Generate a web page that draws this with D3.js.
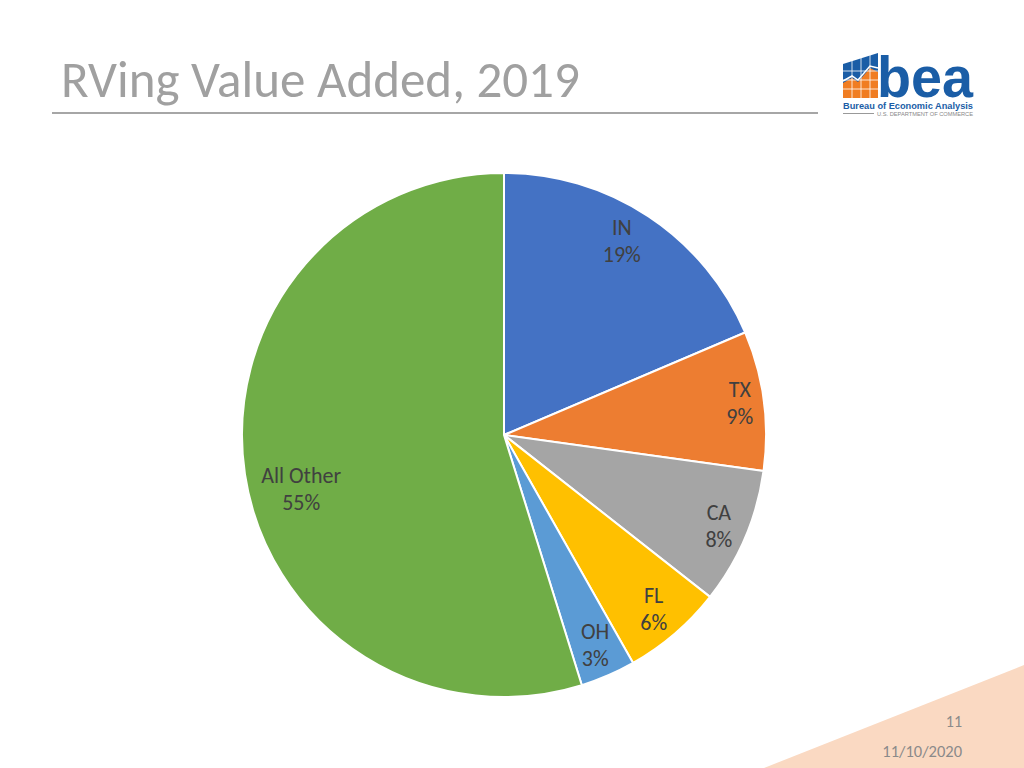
<!DOCTYPE html>
<html><head><meta charset="utf-8">
<script src="https://cdn.jsdelivr.net/npm/d3@7"></script>
<style>html,body{margin:0;padding:0;background:#fff;}svg{display:block;}</style>
</head><body>
<svg id="c" width="1024" height="768"></svg>
<script>
const categories = ["IN", "TX", "CA", "FL", "OH", "All Other"];
const values = [18.6, 8.6, 8.4, 6.2, 3.4, 54.8];
const colors = ["#4472c4", "#ed7d31", "#a5a5a5", "#ffc000", "#5b9bd5", "#70ad47"];
const title = "RVing Value Added, 2019";
const pageNumber = "11";
const dateText = "11/10/2020";

const svg = d3.select("#c");
const font = "Carlito, 'Open Sans', 'Liberation Sans', sans-serif";

// background triangle bottom-right
svg.append("path").attr("d", "M764,768 L1024,665 L1024,768 Z").attr("fill", "#fad9c2");

// title
svg.append("text").attr("x", 61).attr("y", 97).attr("font-family", font)
  .attr("font-size", 51).attr("fill", "#a0a0a0").text(title);
svg.append("line").attr("x1", 52).attr("x2", 818).attr("y1", 113).attr("y2", 113)
  .attr("stroke", "#a6a6a6").attr("stroke-width", 2);

// logo
const logo = svg.append("g");
const blue = "#1a5da6";
logo.append("path").attr("d", "M843,64 L878,53 L878,98 L843,98 Z").attr("fill", blue);
logo.append("path").attr("d", "M843,83 L852,78 L858,82 L870,68 L878,72 L878,98 L843,98 Z").attr("fill", "#f07d22");
for (let i = 1; i < 4; i++) {
  logo.append("line").attr("x1", 843 + i * 9).attr("x2", 843 + i * 9).attr("y1", 55).attr("y2", 98).attr("stroke", "#fff").attr("stroke-width", 0.8);
}
for (let j = 1; j < 4; j++) {
  logo.append("line").attr("x1", 843).attr("x2", 878).attr("y1", 62 + j * 9).attr("y2", 62 + j * 9).attr("stroke", "#fff").attr("stroke-width", 0.8);
}
logo.append("polyline").attr("points", "843,81 852,76 858,80 870,66 878,68").attr("fill", "none").attr("stroke", "#fff").attr("stroke-width", 1.5);
logo.append("text").attr("x", 877).attr("y", 97).attr("font-family", "'Liberation Sans', Arial, sans-serif")
  .attr("font-weight", "bold").attr("font-size", 58).attr("fill", blue).attr("textLength", 96).attr("lengthAdjust", "spacingAndGlyphs").text("bea");
logo.append("text").attr("x", 843).attr("y", 109).attr("font-family", "'Liberation Sans', Arial, sans-serif")
  .attr("font-weight", "bold").attr("font-size", 9.5).attr("fill", blue).attr("textLength", 130).attr("lengthAdjust", "spacingAndGlyphs").text("Bureau of Economic Analysis");
logo.append("line").attr("x1", 843).attr("x2", 874).attr("y1", 113.5).attr("y2", 113.5).attr("stroke", "#999").attr("stroke-width", 1);
logo.append("text").attr("x", 877).attr("y", 116).attr("font-family", "'Liberation Sans', Arial, sans-serif")
  .attr("font-size", 5.5).attr("fill", "#888").attr("textLength", 96).attr("lengthAdjust", "spacingAndGlyphs").text("U.S. DEPARTMENT OF COMMERCE");

// pie
const cx = 504, cy = 435, R = 262;
const total = d3.sum(values);
const data = categories.map((c, i) => ({ name: c, value: values[i], color: colors[i] }));
const pie = d3.pie().value(d => d.value).sort(null).startAngle(0).endAngle(2 * Math.PI);
const arc = d3.arc().innerRadius(0).outerRadius(R);
const g = svg.append("g").attr("transform", `translate(${cx},${cy})`);
const arcs = pie(data);
g.selectAll("path.slice").data(arcs).join("path").attr("class", "slice")
  .attr("d", arc).attr("fill", d => d.data.color).attr("stroke", "#fff").attr("stroke-width", 2).attr("stroke-linejoin", "round");

// labels: "inside end" style, box edge placed at R - inset along the label angle.
// Large slices get their label angle pulled slightly toward the slice start (as in the original).
const inset = 8;
function labelAngle(d) {
  const mid = (d.startAngle + d.endAngle) / 2;
  const span = d.endAngle - d.startAngle;
  return span > 1.0 ? mid - span * 0.032 : mid;
}
const lab = g.selectAll("g.lab").data(arcs).join("g").attr("class", "lab");
lab.append("text").attr("text-anchor", "middle").attr("y", -6.5).attr("font-family", font)
  .attr("font-size", 22).attr("fill", "#404040").text(d => d.data.name);
lab.append("text").attr("text-anchor", "middle").attr("y", 20.5).attr("font-family", font)
  .attr("font-size", 22).attr("fill", "#404040").text(d => Math.round(d.data.value / total * 100) + "%");
lab.attr("transform", function(d) {
  const bb = this.getBBox();
  const hw = bb.width / 2, hh = 20.5;
  const a = labelAngle(d);
  const ux = Math.sin(a), uy = -Math.cos(a);
  const proj = hw * Math.abs(ux) + hh * Math.abs(uy);
  const r = R - inset - proj;
  return `translate(${r * ux},${r * uy})`;
});

// footer
svg.append("text").attr("x", 962).attr("y", 727).attr("text-anchor", "end").attr("font-family", font)
  .attr("font-size", 16).attr("fill", "#8a8a8a").text(pageNumber);
svg.append("text").attr("x", 962).attr("y", 757).attr("text-anchor", "end").attr("font-family", font)
  .attr("font-size", 16.5).attr("fill", "#8a8a8a").text(dateText);
</script>
</body></html>
